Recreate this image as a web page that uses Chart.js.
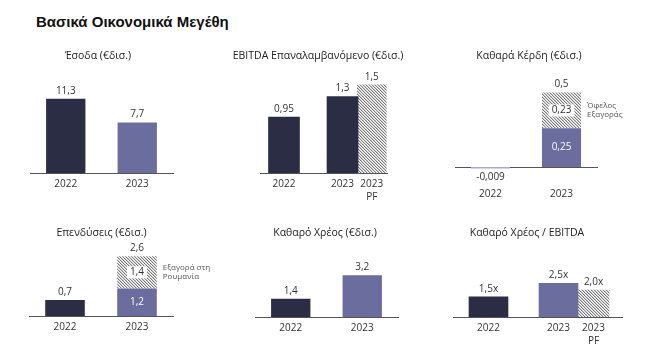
<!DOCTYPE html>
<html lang="el">
<head>
<meta charset="utf-8">
<title>Βασικά Οικονομικά Μεγέθη</title>
<script src="https://cdn.jsdelivr.net/npm/chart.js@4.4.1/dist/chart.umd.min.js"></script>
<style>
  html, body { margin: 0; background: #fff; }
  #page { position: relative; width: 646px; height: 364px; overflow: hidden; }
  h1 { position: absolute; left: 36px; top: 13px; margin: 0; font: bold 15px/17px "Liberation Sans", Arial, sans-serif; color: #111; }
  canvas { position: absolute; }
</style>
</head>
<body>
<div id="page">
  <h1>Βασικά Οικονομικά Μεγέθη</h1>
  <canvas id="revenue"></canvas>
  <canvas id="ebitda"></canvas>
  <canvas id="profit"></canvas>
  <canvas id="capex"></canvas>
  <canvas id="debt"></canvas>
  <canvas id="leverage"></canvas>
</div>
<script>
// data
const years = ['2022', '2023'];
const yearsPF = ['2022', '2023', ['2023', 'PF']];

const revenue = [11.3, 7.7];
const ebitda = [0.95, 1.3];
const ebitdaPF = [1.5];
const netProfit = [-0.009, 0.25];
const buyoutGain = [null, 0.23];
const capex = [0.7, 1.2];
const romaniaDeal = [null, 1.4];
const netDebt = [1.4, 3.2];
const leverage = [1.5, 2.5];
const leveragePF = [2.0];

const gainNote = ['Όφελος', 'Εξαγοράς'];
const romaniaNote = ['Εξαγορά στη', 'Ρουμανία'];

// styles
const NAVY = '#2b2d44';
const PURPLE = '#6a6d9e';
const LILAC = '#a7aacd';
const FONT = '"Open Sans", "Noto Sans", sans-serif';
Chart.defaults.font.family = FONT;

function hatch() {
  const c = document.createElement('canvas');
  c.width = c.height = 3;
  const g = c.getContext('2d');
  g.fillStyle = '#fff';
  g.fillRect(0, 0, 3, 3);
  for (let i = 0; i < 3; i++) {
    g.fillStyle = '#7a7a7a';
    g.fillRect(i, i, 1, 1);
    g.fillStyle = '#cfcfcf';
    g.fillRect((i + 1) % 3, i, 1, 1);
  }
  return g.createPattern(c, 'repeat');
}
const HATCH = hatch();

const comma = v => String(v).replace('.', ',');
const times = v => v.toFixed(1).replace('.', ',') + 'x';

// bar positions along x for the panels with a PF bar
const slots = [0, 1, 1.5];
const at = (vals, from) => vals.map((y, i) => ({x: slots[from + i], y}));

// panel title, value labels, inner labels, totals and side notes
const valueLabels = {
  id: 'valueLabels',
  afterDatasetsDraw(chart, args, opts) {
    const ctx = chart.ctx;
    ctx.save();
    ctx.textAlign = 'center';
    ctx.textBaseline = 'middle';

    ctx.font = '10.5px ' + FONT;
    ctx.fillStyle = '#222';
    ctx.fillText(opts.title, opts.titleX, opts.titleY);

    const stacks = new Map();
    chart.data.datasets.forEach((ds, di) => {
      chart.getDatasetMeta(di).data.forEach((bar, i) => {
        const raw = ds.data[i];
        const v = raw !== null && typeof raw === 'object' ? raw.y : raw;
        if (v == null) return;
        const key = Math.round(bar.x);
        if (!stacks.has(key)) stacks.set(key, []);
        stacks.get(key).push({bar, v, ds});
      });
    });

    stacks.forEach(segs => {
      ctx.font = '10px ' + FONT;
      if (segs.length === 1) {
        const {bar, v} = segs[0];
        ctx.fillStyle = '#333';
        ctx.fillText(opts.format(v), bar.x, v < 0 ? bar.y + 9 : bar.y - 8);
        return;
      }
      segs.forEach(({bar, v, ds}, k) => {
        const mid = (bar.y + bar.base) / 2;
        const text = opts.format(v);
        ctx.font = '10px ' + FONT;
        if (k === 0) {
          ctx.fillStyle = '#fff';
          ctx.fillText(text, bar.x, mid);
        } else {
          const w = ctx.measureText(text).width + 6;
          ctx.fillStyle = '#fff';
          ctx.fillRect(bar.x - w / 2, mid - 6, w, 12);
          ctx.fillStyle = '#333';
          ctx.fillText(text, bar.x, mid);
        }
        if (ds.note) {
          ctx.font = '8px ' + FONT;
          ctx.fillStyle = '#555';
          ctx.textAlign = 'left';
          ds.note.forEach((line, j) => {
            ctx.fillText(line, bar.x + bar.width / 2 + 6, mid + (j - (ds.note.length - 1) / 2) * 9.5);
          });
          ctx.textAlign = 'center';
        }
      });
      const top = segs[segs.length - 1].bar;
      const total = segs.reduce((s, g) => s + g.v, 0);
      ctx.font = '10px ' + FONT;
      ctx.fillStyle = '#333';
      ctx.fillText(opts.format(Number(total.toFixed(1))), top.x, top.y - 8);
    });
    ctx.restore();
  }
};

function panel(id, box, title, labels, datasets, format) {
  const cv = document.getElementById(id);
  cv.width = box.w;
  cv.height = box.h;
  cv.style.left = box.x + 'px';
  cv.style.top = box.y + 'px';

  const x = {
    stacked: true,
    offset: box.xMin === undefined,
    grid: {display: false, drawTicks: false},
    border: {display: true, color: '#555', width: 1},
    ticks: {color: '#333', padding: box.tickPad || 5, maxRotation: 0, autoSkip: false,
            font: {size: 10, lineHeight: 1.3}}
  };
  if (box.xMin !== undefined) {
    x.type = 'linear';
    x.min = box.xMin;
    x.max = box.xMax;
    x.afterBuildTicks = s => { s.ticks = slots.map(value => ({value})); };
    x.ticks.callback = (v, i) => labels[i];
  }

  return new Chart(cv, {
    type: 'bar',
    data: {labels, datasets},
    options: {
      responsive: false,
      animation: false,
      layout: {padding: {left: box.left, right: box.right, top: 30, bottom: 0}},
      datasets: {bar: {categoryPercentage: 1, barPercentage: 0.55, borderWidth: 0}},
      plugins: {
        legend: {display: false},
        tooltip: {enabled: false},
        valueLabels: {format, title, titleX: box.titleX - box.x, titleY: 16}
      },
      scales: {
        x,
        y: {display: false, stacked: true, min: 0, max: box.yMax}
      }
    },
    plugins: [valueLabels]
  });
}

panel('revenue', {x: 20, y: 40, w: 195, h: 156, left: 10, right: 42, yMax: 15.7, titleX: 98},
  'Έσοδα (€δισ.)', years,
  [{data: revenue, backgroundColor: [NAVY, PURPLE]}], comma);

panel('ebitda', {x: 225, y: 40, w: 195, h: 169, left: 35, right: 33, yMax: 1.75, xMin: -0.41, xMax: 1.76, titleX: 318},
  'EBITDA Επαναλαμβανόμενο (€δισ.)', yearsPF,
  [{data: at(ebitda, 0), backgroundColor: NAVY, barThickness: 31},
   {data: at(ebitdaPF, 2), backgroundColor: HATCH, barThickness: 29}], comma);

panel('profit', {x: 440, y: 40, w: 200, h: 182, left: 15, right: 43, yMax: 0.626, tickPad: 21, titleX: 529},
  'Καθαρά Κέρδη (€δισ.)', years,
  [{data: netProfit, backgroundColor: [LILAC, PURPLE], clip: false},
   {data: buyoutGain, backgroundColor: HATCH, note: gainNote}], comma);

panel('capex', {x: 20, y: 217, w: 195, h: 122, left: 9, right: 42, yMax: 3.0, titleX: 101.5},
  'Επενδύσεις (€δισ.)', years,
  [{data: capex, backgroundColor: [NAVY, PURPLE]},
   {data: romaniaDeal, backgroundColor: HATCH, note: romaniaNote}], comma);

panel('debt', {x: 225, y: 217, w: 195, h: 123, left: 30, right: 22, yMax: 5.38, titleX: 325},
  'Καθαρό Χρέος (€δισ.)', years,
  [{data: netDebt, backgroundColor: [NAVY, PURPLE]}], comma);

panel('leverage', {x: 440, y: 217, w: 200, h: 136, left: 13, right: 18, yMax: 5.19, xMin: -0.507, xMax: 1.907, titleX: 527},
  'Καθαρό Χρέος / EBITDA', yearsPF,
  [{data: at(leverage, 0), backgroundColor: [NAVY, PURPLE], barThickness: 39},
   {data: at(leveragePF, 2), backgroundColor: HATCH, barThickness: 31}], times);
</script>
</body>
</html>
